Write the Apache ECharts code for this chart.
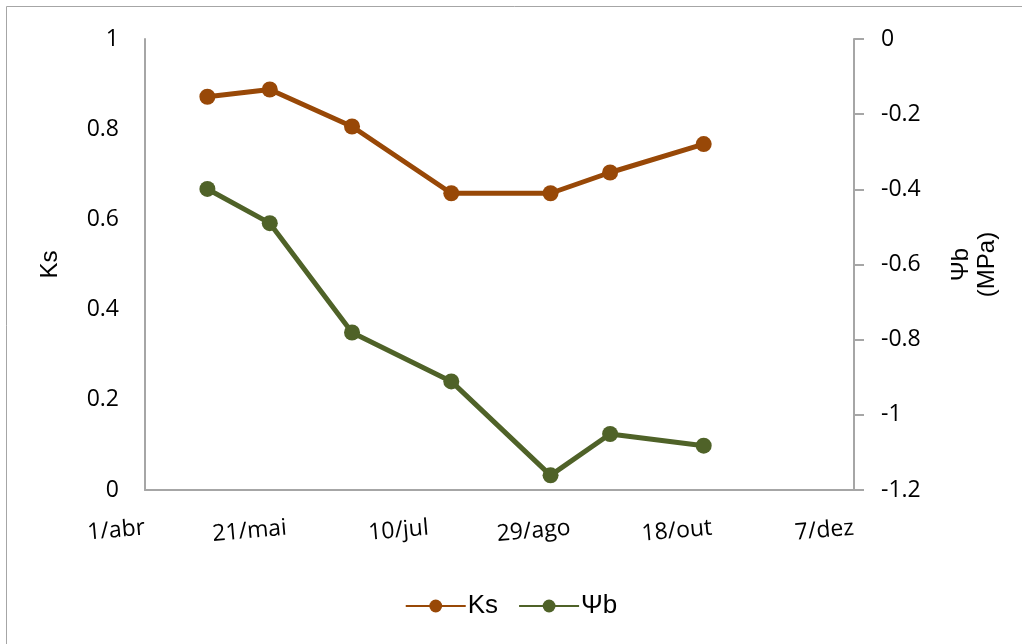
<!DOCTYPE html>
<html>
<head>
<meta charset="utf-8">
<script src="https://cdn.jsdelivr.net/npm/echarts@6/dist/echarts.min.js"></script>
<style>html,body{margin:0;padding:0;background:#fff}#c{width:1022px;height:644px}</style>
</head>
<body>
<div id="c"></div>
<script>
// Days since 1/abr for each sampling date
const sampleDays = [22, 44, 73, 108, 143, 164, 197];
const ksValues = [0.872, 0.888, 0.806, 0.658, 0.658, 0.704, 0.767];
const psiValues = [-0.399, -0.490, -0.781, -0.911, -1.161, -1.051, -1.082];
const xTickLabels = ['1/abr', '21/mai', '10/jul', '29/ago', '18/out', '7/dez'];
const xTickStep = 50;

const chart = echarts.init(document.getElementById('c'), null, {renderer: 'canvas'});
const axisGrey = '#A6A6A6';
const labelFont = '"Open Sans", Lato, sans-serif';
const arial = '"Liberation Sans", Arial, sans-serif';
chart.setOption({
  animation: false,
  backgroundColor: '#fff',
  graphic: [{
    type: 'rect', shape: {x: 6.5, y: 6.5, width: 1100, height: 800},
    style: {fill: 'none', stroke: axisGrey, lineWidth: 1}, silent: true
  }],
  grid: {left: 145, right: 168, top: 39, bottom: 154},
  legend: {
    top: 588, left: 'center', itemWidth: 60, itemHeight: 16, itemGap: 20,
    textStyle: {fontFamily: arial, fontSize: 26, color: '#000', padding: [0, 0, 0, -3]},
    data: ['Ks', 'Ψb']
  },
  xAxis: {
    type: 'value', min: 0, max: xTickStep * (xTickLabels.length - 1), interval: xTickStep,
    axisLine: {show: true, lineStyle: {color: axisGrey, width: 2}},
    axisTick: {show: false}, splitLine: {show: false},
    axisLabel: {
      rotate: 5, margin: 38, color: '#000', fontFamily: labelFont, fontSize: 23,
      formatter: v => xTickLabels[Math.round(v / xTickStep)]
    }
  },
  yAxis: [{
    type: 'value', min: 0, max: 1, interval: 0.2, name: 'Ks',
    nameLocation: 'middle', nameGap: 83, nameRotate: 90,
    nameTextStyle: {fontFamily: arial, fontSize: 24, color: '#000'},
    axisLine: {show: true, lineStyle: {color: axisGrey, width: 2}},
    axisTick: {show: false}, splitLine: {show: false},
    axisLabel: {margin: 26, color: '#000', fontFamily: labelFont, fontSize: 23}
  }, {
    type: 'value', min: -1.2, max: 0, interval: 0.2, position: 'right', name: 'Ψb\n(MPa)',
    nameLocation: 'middle', nameGap: 94, nameRotate: 90,
    nameTextStyle: {fontFamily: arial, fontSize: 24, color: '#000', align: 'center', lineHeight: 26},
    axisLine: {show: true, lineStyle: {color: axisGrey, width: 2}},
    axisTick: {show: true, inside: false, length: 10, lineStyle: {color: axisGrey, width: 2}},
    splitLine: {show: false},
    axisLabel: {margin: 27, color: '#000', fontFamily: labelFont, fontSize: 23,
      formatter: v => String(Math.round(v * 10) / 10)}
  }],
  series: [{
    name: 'Ks', type: 'line', yAxisIndex: 0,
    data: sampleDays.map((d, i) => [d, ksValues[i]]),
    symbol: 'circle', symbolSize: 16,
    lineStyle: {color: '#984807', width: 5},
    itemStyle: {color: '#984807'}
  }, {
    name: 'Ψb', type: 'line', yAxisIndex: 1,
    data: sampleDays.map((d, i) => [d, psiValues[i]]),
    symbol: 'circle', symbolSize: 16,
    lineStyle: {color: '#4F6228', width: 5},
    itemStyle: {color: '#4F6228'}
  }]
});
</script>
</body>
</html>
